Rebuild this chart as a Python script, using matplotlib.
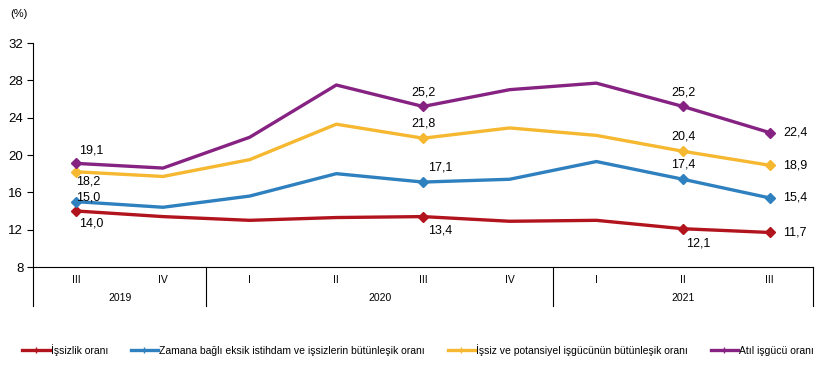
import matplotlib
matplotlib.use("Agg")
import matplotlib.pyplot as plt
import matplotlib.transforms as mtransforms

plt.rcParams['font.family'] = ['Liberation Sans', 'DejaVu Sans']

quarters = ["III", "IV", "I", "II", "III", "IV", "I", "II", "III"]
years = ["2019", "2020", "2021"]
year_spans = [(0, 1), (2, 5), (6, 8)]

issizlik = [14.0, 13.4, 13.0, 13.3, 13.4, 12.9, 13.0, 12.1, 11.7]
zamana = [15.0, 14.4, 15.6, 18.0, 17.1, 17.4, 19.3, 17.4, 15.4]
potansiyel = [18.2, 17.7, 19.5, 23.3, 21.8, 22.9, 22.1, 20.4, 18.9]
atil = [19.1, 18.6, 21.9, 27.5, 25.2, 27.0, 27.7, 25.2, 22.4]

names = ["İşsizlik oranı",
         "Zamana bağlı eksik istihdam ve işsizlerin bütünleşik oranı",
         "İşsiz ve potansiyel işgücünün bütünleşik oranı",
         "Atıl işgücü oranı"]
colors = ["#B2141E", "#2F80BF", "#F5B830", "#862282"]
series = [issizlik, zamana, potansiyel, atil]
marked = [0, 4, 7, 8]

fig = plt.figure(figsize=(8.36, 3.76), dpi=100)
ax = fig.add_axes([33/836, 1-267/376, (813-33)/836, (267-43)/376])

x = list(range(len(quarters)))
for s, c, n in zip(series, colors, names):
    ax.plot(x, s, color=c, lw=2.4, solid_joinstyle='round', zorder=3, label=n)
    ax.plot([x[i] for i in marked], [s[i] for i in marked], ls='none', marker='D',
            ms=5.5, color=c, zorder=4)

# data labels: (series index, point index, dx, dy, ha, va)
lab = [
    (3, 0, 2, 5, 'left', 'bottom'), (2, 0, 0, -3, 'left', 'top'),
    (1, 0, 0, -1, 'left', 'bottom'), (0, 0, 2, -5, 'left', 'top'),
    (3, 4, 0, 6, 'center', 'bottom'), (2, 4, 0, 6, 'center', 'bottom'),
    (1, 4, 4, 6, 'left', 'bottom'), (0, 4, 4, -6, 'left', 'top'),
    (3, 7, 0, 6, 'center', 'bottom'), (2, 7, 0, 6, 'center', 'bottom'),
    (1, 7, 0, 6, 'center', 'bottom'), (0, 7, 2, -6, 'left', 'top'),
    (3, 8, 10, 0, 'left', 'center'), (2, 8, 10, 0, 'left', 'center'),
    (1, 8, 10, 0, 'left', 'center'), (0, 8, 10, 0, 'left', 'center'),
]
for si, pi, dx, dy, ha, va in lab:
    v = series[si][pi]
    ax.annotate(f"{v:.1f}".replace('.', ','), (x[pi], v), xytext=(dx, dy),
                textcoords='offset points', ha=ha, va=va, fontsize=9, zorder=5)

ax.set_xlim(-0.5, len(quarters) - 0.5)
ax.set_ylim(8, 32)
ax.set_yticks([8, 12, 16, 20, 24, 28, 32])
ax.tick_params(axis='y', labelsize=9.5, length=4, width=0.8, pad=3)
ax.set_xticks([])
for sp in ['top', 'right']:
    ax.spines[sp].set_visible(False)
ax.spines['left'].set_linewidth(0.8)
ax.spines['bottom'].set_linewidth(0.8)

trans = mtransforms.blended_transform_factory(ax.transData, ax.transAxes)
depth = -(306 - 267) / 224
for xb in [-0.5, 1.5, 5.5, 8.5]:
    ax.plot([xb, xb], [0, depth], color='black', lw=0.8, transform=trans, clip_on=False)
for i, q in enumerate(quarters):
    ax.text(i, -(280 - 267) / 224, q, transform=trans, ha='center', va='center', fontsize=7.5)
for yname, (a, b) in zip(years, year_spans):
    ax.text((a + b) / 2, -(298 - 267) / 224, yname, transform=trans, ha='center',
            va='center', fontsize=7.5)

fig.text(10/836, 1-14/376, "(%)", fontsize=8, ha='left', va='center')

leg_handles = []
for c in colors:
    h, = ax.plot([], [], color=c, lw=2.4, marker='+', ms=4, mew=1)
    leg_handles.append(h)
fig.legend(leg_handles, names, loc='center', bbox_to_anchor=(0.5, 1-350/376), ncol=4,
           frameon=False, fontsize=7.5, handlelength=2.6, handletextpad=0.1,
           columnspacing=2.2)

fig.savefig("out.png", dpi=100)
